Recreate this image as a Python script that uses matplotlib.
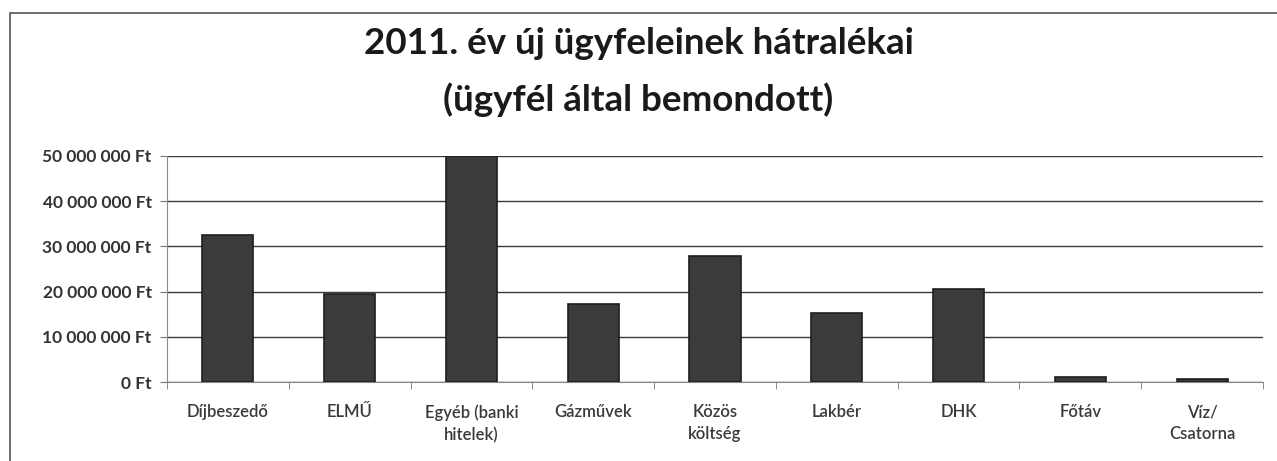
import matplotlib.pyplot as plt
from matplotlib.ticker import FuncFormatter, FixedLocator
from matplotlib.patches import Rectangle
import numpy as np

# kategóriák és hátralékok (Ft)
categories = ['Díjbeszedő', 'ELMŰ', 'Egyéb (banki\nhitelek)', 'Gázművek', 'Közös\nköltség',
              'Lakbér', 'DHK', 'Főtáv', 'Víz/\nCsatorna']
values = [32500000, 19500000, 50000000, 17300000, 27900000, 15200000, 20600000, 1100000, 600000]
y_ticks = [0, 10000000, 20000000, 30000000, 40000000, 50000000]

plt.rcParams['font.family'] = ['Lato', 'DejaVu Sans']

def ft_format(v, pos):
    return f"{int(v):,} Ft".replace(',', ' ')

fig = plt.figure(figsize=(12.77, 4.61), dpi=100)
fig.patch.set_facecolor('white')

# outer chart frame
fig.patches.append(Rectangle((10 / 1277, -0.1), 1.2, 1 - 13 / 461 + 0.1, transform=fig.transFigure,
                             fill=False, edgecolor='#555555', linewidth=1.2))

ax = fig.add_axes([167 / 1277, 1 - 382 / 461, (1263 - 167) / 1277, (382 - 156) / 461])

x = np.arange(len(categories))
ax.bar(x, values, width=0.42, color='#3b3b3b', edgecolor='#1e1e1e', linewidth=1.2, zorder=3)

ax.set_xlim(-0.5, len(categories) - 0.5)
ax.set_ylim(0, 50000000)
ax.set_yticks(y_ticks)
ax.yaxis.set_major_formatter(FuncFormatter(ft_format))
ax.grid(axis='y', color='#3a3a3a', linewidth=1.0, zorder=0)

ax.set_xticks(x)
ax.set_xticklabels(categories, fontsize=12, color='#3a3a3a', linespacing=1.45,
                   fontweight='semibold')
ax.xaxis.set_minor_locator(FixedLocator(np.arange(-0.5, len(categories), 1)))
ax.tick_params(axis='x', which='major', length=0, pad=16)
ax.tick_params(axis='x', which='minor', length=5, color='#777777', direction='out')
ax.tick_params(axis='y', length=5, color='#777777', pad=6)
for lbl in ax.get_yticklabels():
    lbl.set_fontsize(12.5)
    lbl.set_fontweight('bold')
    lbl.set_color('#333333')

for side in ['top', 'right']:
    ax.spines[side].set_visible(False)
ax.spines['left'].set_color('#888888')
ax.spines['bottom'].set_color('#888888')

fig.text(0.5, 1 - 44 / 461, '2011. év új ügyfeleinek hátralékai', ha='center', va='center',
         fontsize=26.5, fontweight='bold', color='#1a1a1a')
fig.text(0.5, 1 - 100 / 461, '(ügyfél által bemondott)', ha='center', va='center',
         fontsize=26.5, fontweight='bold', color='#1a1a1a')

fig.savefig('out.png', dpi=100, facecolor='white')
